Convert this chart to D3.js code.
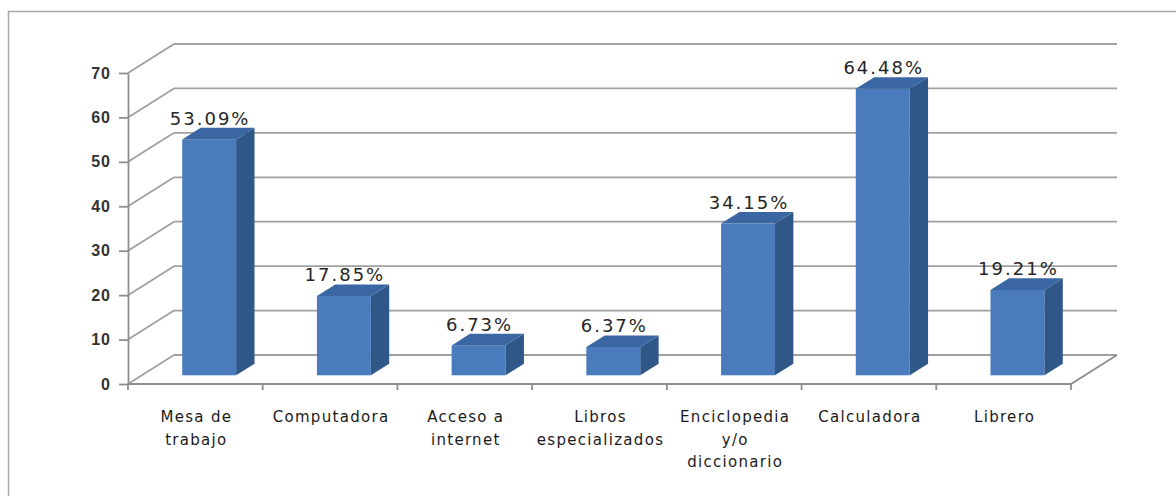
<!DOCTYPE html>
<html>
<head>
<meta charset="utf-8">
<script src="https://cdn.jsdelivr.net/npm/d3@7"></script>
<style>
  body { margin: 0; background: #fff; }
  svg { display: block; font-family: 'DejaVu Sans', Verdana, sans-serif; }
  .grid line { stroke: #a0a0a0; stroke-width: 1.8; }
  .y-axis .domain, .y-axis line, .x-ticks line, .floor { stroke: #8e8e8e; stroke-width: 1.8; fill: none; }
  .y-axis text { font-size: 16px; font-weight: bold; fill: #333; letter-spacing: 1px; }
  .cat-label { font-size: 15px; fill: #1a1a1a; letter-spacing: 1.3px; }
  .val-label { font-size: 18px; fill: #262626; letter-spacing: 2px; }
</style>
</head>
<body>
<div id="chart"></div>
<script>
// data
let categories = [
  ['Mesa de', 'trabajo'],
  ['Computadora'],
  ['Acceso a', 'internet'],
  ['Libros', 'especializados'],
  ['Enciclopedia', 'y/o', 'diccionario'],
  ['Calculadora'],
  ['Librero']
];
let percentages = [53.09, 17.85, 6.73, 6.37, 34.15, 64.48, 19.21];
let yTicks = [0, 10, 20, 30, 40, 50, 60, 70];

let W = 1176, H = 496;
// depth of the fake 3d box (back wall offset)
let depthX = 46, depthY = -29;
let barFront = 0.3, barBack = 0.7;   // bar position inside the depth
let frontColor = '#4a7cbd', sideColor = '#2f5889', topColor = '#3a67a1';

let keys = categories.map((c, i) => i);

let y = d3.scaleLinear().domain([0, 70]).range([384, 73]);
let x = d3.scaleBand().domain(keys).range([128, 1071]).padding(0);

const svg = d3.select('#chart')
  .append('svg')
  .attr('width', W)
  .attr('height', H);

// outer frame (only left/top edges land inside the picture)
svg.append('rect')
  .attr('x', 8.5).attr('y', 11.5)
  .attr('width', 1200).attr('height', 600)
  .attr('fill', 'none')
  .attr('stroke', '#a8a8a8')
  .attr('stroke-width', 1.5);

// back wall gridlines + side wall diagonals
let grid = svg.append('g').attr('class', 'grid');
grid.selectAll('.back')
  .data(yTicks)
  .join('line')
  .attr('class', 'back')
  .attr('x1', x.range()[0] + depthX)
  .attr('x2', x.range()[1] + depthX)
  .attr('y1', (d) => y(d) + depthY)
  .attr('y2', (d) => y(d) + depthY);
grid.selectAll('.side')
  .data(yTicks)
  .join('line')
  .attr('class', 'side')
  .attr('x1', x.range()[0])
  .attr('x2', x.range()[0] + depthX)
  .attr('y1', (d) => y(d))
  .attr('y2', (d) => y(d) + depthY);

// floor front edge + right diagonal
svg.append('path')
  .attr('class', 'floor')
  .attr('d', d3.line()([
    [x.range()[0], y(0)],
    [x.range()[1], y(0)],
    [x.range()[1] + depthX, y(0) + depthY]
  ]));

// bars
let bw = x.bandwidth() * 0.4;
let fx = depthX * barFront, fy = depthY * barFront;
let bx = depthX * (barBack - barFront), by = depthY * (barBack - barFront);
let left = (i) => x(i) + (x.bandwidth() - bw) / 2 + fx;

let bars = svg.append('g').attr('class', 'bars')
  .selectAll('g')
  .data(percentages)
  .join('g');

bars.append('rect')
  .attr('x', (d, i) => left(i))
  .attr('y', (d) => y(d) + fy)
  .attr('width', bw)
  .attr('height', (d) => y(0) - y(d))
  .attr('fill', frontColor);

bars.append('path')
  .attr('fill', sideColor)
  .attr('d', (d, i) => {
    let x0 = left(i) + bw;
    return d3.line()([
      [x0, y(d) + fy], [x0 + bx, y(d) + fy + by],
      [x0 + bx, y(0) + fy + by], [x0, y(0) + fy]
    ]) + 'Z';
  });

bars.append('path')
  .attr('fill', topColor)
  .attr('d', (d, i) => {
    let x0 = left(i), yt = y(d) + fy;
    return d3.line()([
      [x0, yt], [x0 + bx, yt + by], [x0 + bw + bx, yt + by], [x0 + bw, yt]
    ]) + 'Z';
  });

// value labels
bars.append('text')
  .attr('class', 'val-label')
  .attr('text-anchor', 'middle')
  .attr('x', (d, i) => left(i) + bw / 2 + 1)
  .attr('y', (d) => y(d) + fy + by - 3)
  .text((d) => d.toFixed(2) + '%');

// y axis
svg.append('g')
  .attr('class', 'y-axis')
  .attr('transform', `translate(${x.range()[0]},0)`)
  .call(d3.axisLeft(y).tickValues(yTicks).tickSize(9).tickPadding(9).tickSizeOuter(0))
  .call((g) => g.selectAll('text').attr('font-family', null).attr('font-size', null).attr('dx', 1));

// x ticks at band edges
let edges = keys.map((k) => x(k)).concat([x.range()[1]]);
svg.append('g').attr('class', 'x-ticks')
  .selectAll('line')
  .data(edges)
  .join('line')
  .attr('x1', (d) => d).attr('x2', (d) => d)
  .attr('y1', y(0)).attr('y2', y(0) + 6);

// category labels
svg.append('g')
  .selectAll('text')
  .data(categories)
  .join('text')
  .attr('class', 'cat-label')
  .attr('text-anchor', 'middle')
  .attr('y', 422)
  .each(function (lines, i) {
    d3.select(this).selectAll('tspan')
      .data(lines)
      .join('tspan')
      .attr('x', x(i) + x.bandwidth() / 2 + 1)
      .attr('dy', (t, j) => (j === 0 ? 0 : 22.5))
      .text((t) => t);
  });
</script>
</body>
</html>
